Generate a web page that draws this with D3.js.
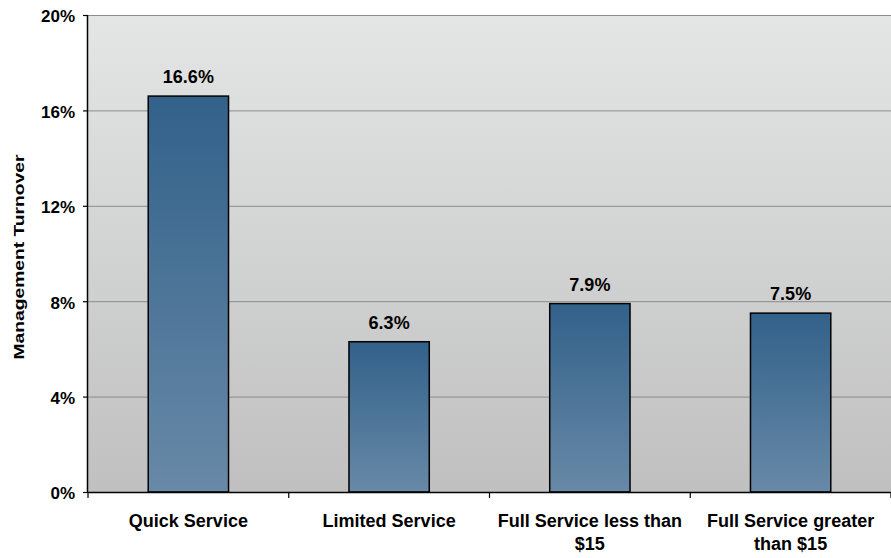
<!DOCTYPE html>
<html><head><meta charset="utf-8">
<script src="https://cdn.jsdelivr.net/npm/d3@7"></script>
<style>body{margin:0;background:#fff}svg{display:block}</style>
</head><body>
<svg id="c" width="891" height="558"></svg>
<script>
const categories = [["Quick Service"],["Limited Service"],["Full Service less than","$15"],["Full Service greater","than $15"]];
const values = [16.6, 6.3, 7.9, 7.5];
const valueLabels = ["16.6%","6.3%","7.9%","7.5%"];
const yTicks = [0,4,8,12,16,20];
const yTitle = "Management Turnover";

const FONT = "Liberation Sans, Arial, sans-serif";
const svg = d3.select("#c");
const m = {l:88, t:15, r:891, b:492};
const x = d3.scaleBand().domain(d3.range(categories.length)).range([m.l, m.r]).paddingInner(0.6).paddingOuter(0.3);
const y = d3.scaleLinear().domain([0,20]).range([m.b, m.t]);

const defs = svg.append("defs");
const bg = defs.append("linearGradient").attr("id","bg").attr("x1",0).attr("y1",0).attr("x2",0).attr("y2",1);
bg.append("stop").attr("offset","0%").attr("stop-color","#e4e5e5");
bg.append("stop").attr("offset","100%").attr("stop-color","#c0c0c0");
const bgr = defs.append("linearGradient").attr("id","bar").attr("x1",0).attr("y1",0).attr("x2",0).attr("y2",1);
bgr.append("stop").attr("offset","0%").attr("stop-color","#32618a");
bgr.append("stop").attr("offset","100%").attr("stop-color","#6889a7");

svg.append("rect").attr("x",m.l).attr("y",m.t).attr("width",m.r-m.l).attr("height",m.b-m.t).attr("fill","url(#bg)");

// gridlines
svg.append("g").selectAll("line").data(yTicks.filter(d=>d>0)).join("line")
  .attr("x1",m.l).attr("x2",m.r).attr("y1",d=>y(d)+0.5).attr("y2",d=>y(d)+0.5)
  .attr("stroke","#8c8c8c").attr("stroke-width",1);

// bars
svg.append("g").selectAll("rect").data(values).join("rect")
  .attr("x",(d,i)=>x(i)).attr("y",d=>y(d)).attr("width",x.bandwidth()).attr("height",d=>y(0)-y(d))
  .attr("fill","url(#bar)").attr("stroke","#000").attr("stroke-width",1.5);

// value labels
svg.append("g").selectAll("text").data(values).join("text")
  .attr("x",(d,i)=>x(i)+x.bandwidth()/2).attr("y",d=>y(d)-13)
  .attr("text-anchor","middle").attr("font-family",FONT)
  .attr("font-weight","bold").attr("font-size","18px").attr("fill","#000")
  .text((d,i)=>valueLabels[i]);

// y axis
const ya = svg.append("g").attr("transform",`translate(${m.l},0)`)
  .call(d3.axisLeft(y).tickValues(yTicks).tickFormat(d=>d+"%").tickSize(5).tickPadding(8));
ya.select(".domain").attr("stroke","#000").attr("stroke-width",1.5).attr("d",`M-0.5,${m.b}V${m.t}`);
ya.selectAll(".tick line").attr("stroke","#000").attr("stroke-width",1.2);
ya.selectAll("text").attr("font-family",FONT).attr("font-weight","bold").attr("font-size","17px").attr("fill","#000").attr("dy","0.4em");

// x axis
const bounds = d3.range(categories.length+1).map(i=>m.l + i*x.step());
svg.append("line").attr("x1",m.l).attr("x2",m.r).attr("y1",m.b+0.5).attr("y2",m.b+0.5).attr("stroke","#000").attr("stroke-width",1.5);
svg.append("g").selectAll("line").data(bounds).join("line")
  .attr("x1",d=>d).attr("x2",d=>d).attr("y1",m.b).attr("y2",m.b+6).attr("stroke","#000").attr("stroke-width",1.2);

const xl = svg.append("g").selectAll("text").data(categories).join("text")
  .attr("x",(d,i)=>x(i)+x.bandwidth()/2).attr("y",527)
  .attr("text-anchor","middle").attr("font-family",FONT)
  .attr("font-weight","bold").attr("font-size","18px").attr("fill","#000");
xl.each(function(d){
  const t=d3.select(this);
  d.forEach((line,j)=>t.append("tspan").attr("x",t.attr("x")).attr("dy",j?23:0).text(line));
});

svg.append("text").attr("transform","translate(24,257) rotate(-90)")
  .attr("text-anchor","middle").attr("font-family",FONT)
  .attr("font-weight","bold").attr("font-size","15px").attr("fill","#000")
  .attr("textLength",205).attr("lengthAdjust","spacingAndGlyphs").text(yTitle);
</script>
</body></html>
